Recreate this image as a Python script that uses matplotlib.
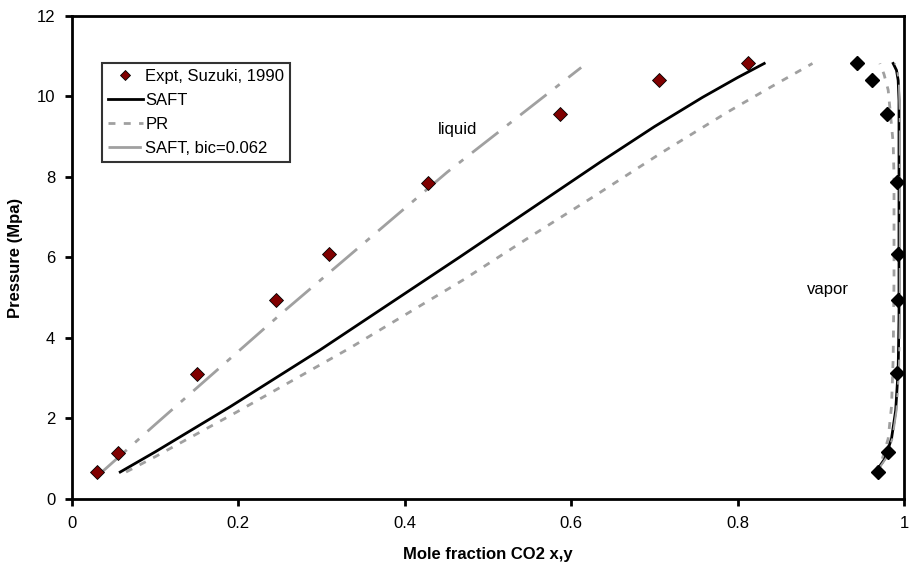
import matplotlib
matplotlib.use("Agg")
import matplotlib.pyplot as plt

plt.rcParams['font.family'] = ['Liberation Sans', 'DejaVu Sans']

# experimental data (Suzuki, 1990)
x_liq_exp = [0.030, 0.055, 0.150, 0.245, 0.309, 0.428, 0.587, 0.706, 0.812]
p_liq_exp = [0.67, 1.15, 3.10, 4.95, 6.09, 7.85, 9.57, 10.42, 10.82]
y_vap_exp = [0.969, 0.981, 0.991, 0.993, 0.993, 0.991, 0.980, 0.962, 0.944]
p_vap_exp = [0.67, 1.17, 3.12, 4.94, 6.09, 7.87, 9.57, 10.42, 10.82]

# SAFT
saft_x = [0.058, 0.10, 0.19, 0.298, 0.466, 0.635, 0.70, 0.758, 0.80, 0.832]
saft_px = [0.67, 1.17, 2.29, 3.70, 6.01, 8.37, 9.25, 9.98, 10.47, 10.82]
saft_y = [0.966, 0.977, 0.985, 0.990, 0.993, 0.994, 0.994, 0.994, 0.994, 0.993, 0.991, 0.987]
saft_py = [0.67, 1.00, 1.50, 2.20, 3.20, 4.50, 6.50, 8.50, 9.90, 10.40, 10.65, 10.82]

# PR
pr_x = [0.065, 0.10, 0.198, 0.334, 0.47, 0.554, 0.626, 0.71, 0.787, 0.837, 0.89]
pr_px = [0.67, 1.05, 2.16, 3.75, 5.44, 6.56, 7.50, 8.62, 9.60, 10.20, 10.82]
pr_y = [0.965, 0.974, 0.981, 0.985, 0.987, 0.988, 0.988, 0.987, 0.981, 0.976, 0.971]
pr_py = [0.67, 1.00, 1.50, 2.30, 3.50, 5.50, 8.00, 8.84, 10.16, 10.55, 10.82]

# SAFT, bic=0.062
bic_x = [0.036, 0.10, 0.254, 0.451, 0.612]
bic_px = [0.67, 1.85, 4.65, 8.12, 10.72]
bic_y = [0.967, 0.978, 0.986, 0.991, 0.994, 0.995, 0.995, 0.995, 0.994, 0.992, 0.989]
bic_py = [0.67, 1.00, 1.50, 2.20, 3.20, 4.50, 7.00, 9.50, 10.30, 10.65, 10.82]

fig = plt.figure(figsize=(9.1, 5.74), dpi=100)
ax = fig.add_axes([0.0791, 0.1307, 0.9143, 0.8415])

gray = '#a0a0a0'
ax.plot(bic_x, bic_px, color=gray, lw=2, dashes=(12, 4, 2, 4), label='SAFT, bic=0.062')
ax.plot(pr_x, pr_px, color=gray, lw=2, dashes=(2.5, 3), label='PR')
ax.plot(pr_y, pr_py, color=gray, lw=2, dashes=(2.5, 3))
ax.plot(saft_x, saft_px, color='black', lw=2, label='SAFT')
ax.plot(saft_y, saft_py, color='black', lw=2)
ax.plot(bic_y, bic_py, color=gray, lw=1.5, dashes=(12, 4, 2, 4))
ax.plot(x_liq_exp, p_liq_exp, 'D', color='#800000', mec='black', mew=0.6, ms=7,
        label='Expt, Suzuki, 1990')
ax.plot(y_vap_exp, p_vap_exp, 'D', color='black', ms=7)

ax.set_xlim(0, 1)
ax.set_ylim(0, 12)
ax.set_xticks([0, 0.2, 0.4, 0.6, 0.8, 1])
ax.set_xticklabels(['0', '0.2', '0.4', '0.6', '0.8', '1'])
ax.set_yticks(range(0, 13, 2))
for s in ax.spines.values():
    s.set_linewidth(2)
ax.tick_params(direction='out', length=5, width=2, labelsize=12, pad=7)

ax.set_xlabel('Mole fraction CO2 x,y', fontsize=12, fontweight='bold', labelpad=12)
ax.set_ylabel('Pressure (Mpa)', fontsize=12, fontweight='bold', labelpad=10)

ax.text(0.463, 9.19, 'liquid', fontsize=12, ha='center', va='center')
ax.text(0.909, 5.2, 'vapor', fontsize=12, ha='center', va='center')

h, l = ax.get_legend_handles_labels()
order = [3, 2, 1, 0]
leg = ax.legend([h[i] for i in order], [l[i] for i in order], loc='upper left',
                bbox_to_anchor=(0.036, 0.903), fontsize=12, frameon=True, fancybox=False,
                edgecolor='black', handlelength=2.1, handletextpad=0.15, markerscale=0.75,
                borderpad=0.35, labelspacing=0.55, borderaxespad=0)
leg.get_frame().set_linewidth(1.5)

fig.savefig('out.png', dpi=100)
